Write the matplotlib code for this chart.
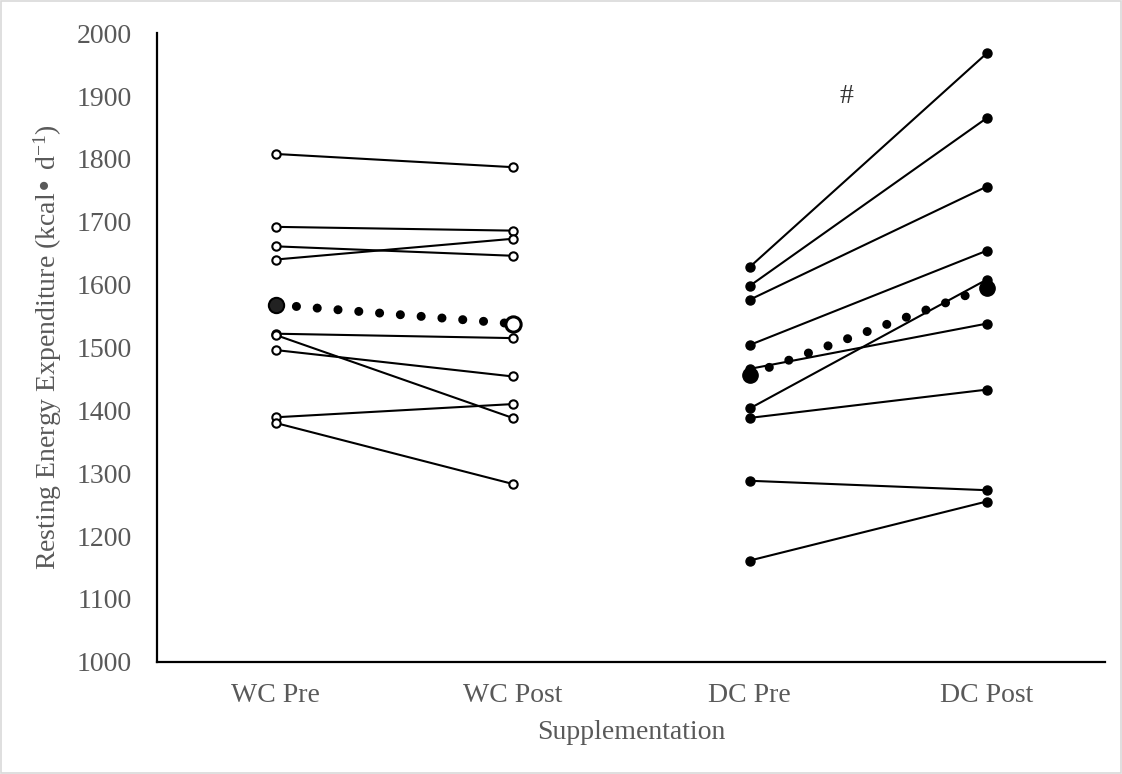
import matplotlib
matplotlib.use("Agg")
import matplotlib.pyplot as plt
from matplotlib.patches import Rectangle

plt.rcParams['font.family'] = ['Liberation Serif', 'DejaVu Serif']
plt.rcParams['mathtext.default'] = 'regular'

# categories on the x axis
groups = ["WC Pre", "WC Post", "DC Pre", "DC Post"]

# individual subjects, water control (pre, post)
wc_pre = [1808, 1692, 1661, 1640, 1522, 1520, 1496, 1389, 1380]
wc_post = [1787, 1686, 1646, 1673, 1515, 1388, 1454, 1410, 1283]

# individual subjects, DC supplement (pre, post)
dc_pre = [1628, 1598, 1576, 1504, 1466, 1403, 1388, 1288, 1161]
dc_post = [1968, 1865, 1756, 1654, 1538, 1608, 1433, 1273, 1255]

# group means
wc_mean = [1568, 1538]
dc_mean = [1457, 1595]

GRAY = "#595959"
FS = 20

fig = plt.figure(figsize=(11.22, 7.74), dpi=100)
ax = fig.add_axes([0.140, 0.145, 0.845, 0.812])

# subject lines
for a, b in zip(wc_pre, wc_post):
    ax.plot([0, 1], [a, b], color="black", lw=1.5, zorder=2)
    ax.plot([0, 1], [a, b], ls="none", marker="o", ms=6, mfc="white",
            mec="black", mew=1.5, zorder=3)
for a, b in zip(dc_pre, dc_post):
    ax.plot([2, 3], [a, b], color="black", lw=1.5, zorder=2)
    ax.plot([2, 3], [a, b], ls="none", marker="o", ms=6.5, mfc="black",
            mec="black", zorder=3)

# mean lines (round dots)
dots = dict(color="black", lw=6.5, ls=(0, (0.01, 2.3)),
            dash_capstyle="round", zorder=4)
ax.plot([0, 1], wc_mean, **dots)
ax.plot([2, 3], dc_mean, **dots)
ax.plot([0], wc_mean[:1], marker="o", ms=11, mfc="#222222", mec="black",
        mew=1.5, zorder=5)
ax.plot([1], wc_mean[1:], marker="o", ms=11, mfc="white", mec="black",
        mew=2.2, zorder=5)
ax.plot([2, 3], dc_mean, ls="none", marker="o", ms=11, mfc="black",
        mec="black", zorder=5)

ax.text(2.41, 1899, "#", fontsize=FS, color="#333333", ha="center",
        va="center")

ax.set_xlim(-0.5, 3.5)
ax.set_ylim(1000, 2000)
ax.set_xticks(range(len(groups)))
ax.set_xticklabels(groups)
ax.set_yticks(range(1000, 2001, 100))

for s in ["top", "right"]:
    ax.spines[s].set_visible(False)
for s in ["left", "bottom"]:
    ax.spines[s].set_linewidth(1.6)
    ax.spines[s].set_color("black")

ax.tick_params(axis="both", length=0, labelsize=FS, colors=GRAY)
ax.tick_params(axis="x", pad=15)
ax.tick_params(axis="y", pad=18)

ax.set_xlabel("Supplementation", fontsize=FS, color=GRAY, labelpad=9)
ax.set_ylabel("Resting Energy Expenditure (kcal\u2022 d$^{-1}$)",
              fontsize=FS, color=GRAY, labelpad=9)

# thin frame around the whole picture
fig.patches.append(Rectangle((0.001, 0.001), 0.998, 0.998,
                             transform=fig.transFigure, fill=False,
                             ec="#d9d9d9", lw=1.2))

fig.savefig("out.png", dpi=100)
